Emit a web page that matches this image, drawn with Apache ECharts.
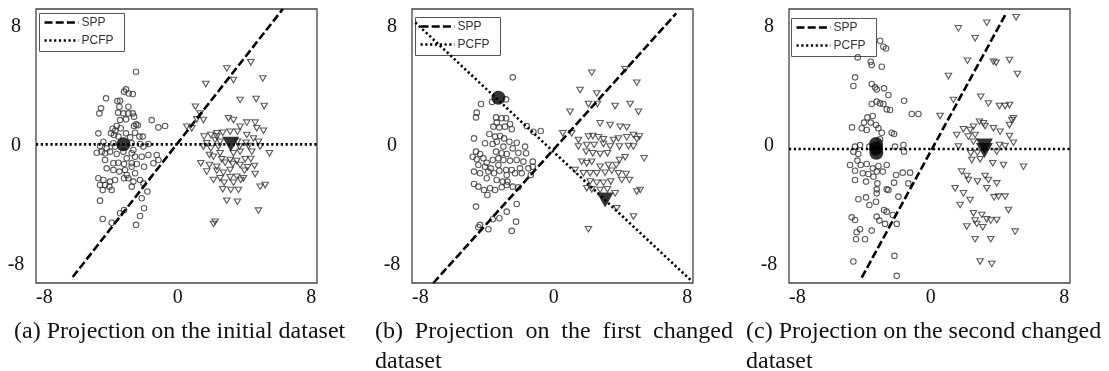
<!DOCTYPE html>
<html>
<head>
<meta charset="utf-8">
<script src="https://cdn.jsdelivr.net/npm/echarts@6/dist/echarts.min.js"></script>
<style>
html, body { margin: 0; padding: 0; background: #fff; }
#chart { width: 1109px; height: 371px; }
</style>
</head>
<body>
<div id="chart"></div>
<script>
// Axis ranges and labelled ticks shared by all three panels
const tickValues = [-8, 0, 8];
const xRange = [-8.5, 8.35];
const yRange = [-9.2, 9.2];

// ---- Panel (a): initial dataset ----
const circlesA = [[-2.50,4.99],[-4.30,3.20],[-3.10,3.80],[-3.22,3.65],[-2.94,3.53],[-2.70,3.49],[-3.62,3.02],[-3.46,3.04],[-4.60,2.53],[-4.70,2.19],[-3.50,2.64],[-2.96,2.64],[-3.58,2.24],[-3.26,2.19],[-2.96,2.19],[-2.70,2.19],[-3.10,1.79],[-2.62,1.97],[-2.50,1.45],[-2.62,1.34],[-2.40,1.39],[-3.46,1.74],[-3.66,1.34],[-3.90,1.16],[-3.74,1.03],[-3.42,1.19],[-1.56,1.74],[-1.16,1.25],[-0.76,1.34],[-4.76,0.85],[-4.00,0.85],[-3.82,0.74],[-3.56,0.63],[-3.10,0.85],[-2.86,0.58],[-2.56,0.89],[-2.30,0.63],[-2.10,0.63],[-4.46,0.29],[-3.86,0.18],[-2.76,0.18],[-2.26,0.13],[-1.76,0.13],[-4.66,0],[-4.26,-0.16],[-3.76,-0.04],[-2.06,-0.04],[-2.66,-0.27],[-4.86,-0.45],[-4.56,-0.38],[-4.36,-0.49],[-4.06,-0.38],[-3.66,-0.54],[-3.26,-0.38],[-2.76,-0.49],[-2.56,-0.72],[-2.16,-0.72],[-1.76,-0.60],[-1.26,-0.60],[-3.06,-0.83],[-4.36,-0.94],[-3.86,-1.16],[-3.56,-1.12],[-3.22,-1.21],[-2.76,-1.16],[-2.46,-1.21],[-2.02,-1.39],[-1.46,-1.16],[-1.16,-0.94],[-4.26,-1.50],[-3.86,-1.61],[-3.50,-1.72],[-3.16,-1.61],[-2.76,-1.39],[-2.56,-1.83],[-3.06,-1.95],[-4.76,-2.17],[-4.46,-2.28],[-4.06,-2.39],[-3.76,-2.28],[-3.22,-2.17],[-2.96,-2.17],[-2.66,-2.39],[-2.26,-2.28],[-2.06,-2.51],[-4.66,-2.62],[-4.36,-2.62],[-4.10,-2.73],[-4.50,-2.95],[-3.96,-2.95],[-2.76,-2.73],[-4.66,-3.67],[-2.16,-3.51],[-1.82,-3.06],[-3.46,-4.52],[-3.22,-4.30],[-2.02,-4.18],[-2.26,-4.70],[-4.50,-4.90],[-3.96,-5.15],[-2.50,-5.30]];
const trianglesA = [[4.38,5.62],[2.94,5.21],[3.34,4.43],[5.10,4.54],[1.68,4.16],[1.06,2.64],[1.34,2.19],[3.74,3.09],[4.70,3.15],[5.18,2.68],[1.54,1.74],[1.14,1.79],[0.54,1.30],[0.84,1.19],[3.04,1.86],[3.34,1.74],[4.14,1.57],[4.64,1.57],[3.74,1.30],[1.58,0.63],[1.98,0.74],[2.34,0.85],[2.70,0.89],[3.14,0.96],[3.58,0.96],[4.14,0.74],[4.74,1.19],[5.14,1.03],[2.34,0.63],[2.24,0.40],[1.74,0.18],[2.54,0.29],[3.58,0.29],[4.10,0.22],[4.84,0.29],[4.54,0.51],[1.54,-0.04],[1.98,-0.16],[2.44,-0.04],[3.70,-0.04],[4.24,0],[4.94,-0.04],[2.54,-0.49],[3.34,-0.49],[3.74,-0.38],[4.44,-0.38],[5.50,-0.49],[1.90,-0.60],[2.14,-0.72],[2.64,-0.89],[3.14,-0.94],[3.54,-1.01],[4.04,-0.89],[4.38,-0.87],[1.38,-1.16],[1.90,-1.28],[2.34,-1.39],[2.84,-1.12],[3.30,-1.21],[3.74,-1.28],[4.18,-1.43],[4.60,-1.34],[1.74,-1.72],[2.34,-1.66],[2.74,-1.79],[3.14,-1.61],[4.00,-1.66],[4.64,-1.88],[2.14,-2.28],[2.54,-2.17],[3.14,-2.10],[3.54,-2.06],[3.94,-2.17],[2.78,-2.46],[3.34,-2.46],[3.78,-2.28],[2.70,-2.91],[3.18,-2.95],[3.64,-2.95],[4.94,-2.73],[5.24,-2.62],[2.94,-3.67],[3.58,-3.74],[4.84,-4.34],[2.14,-5.23],[2.24,-5.08]];
const centerCirclesA = [[-3.26,0.11]];
const centerTrianglesA = [[3.18,0.11]];
const sppA = [[-6.3,-8.8],[6.3,9.2]];
const pcfpA = [[-8.5,0.11],[8.35,0.11]];

// ---- Panel (b): first changed dataset ----
const circlesB = [[-2.46,4.61],[-4.36,2.82],[-4.62,2.24],[-4.66,1.92],[-2.86,3.13],[-3.70,2.95],[-3.46,1.92],[-3.12,1.86],[-2.86,1.86],[-3.42,1.57],[-2.62,1.48],[-3.62,1.30],[-3.26,1.25],[-2.92,1.30],[-2.52,1.12],[-1.62,1.34],[-1.22,0.96],[-0.78,1.01],[-4.78,0.51],[-3.86,0.81],[-3.52,0.63],[-3.22,0.67],[-2.98,0.51],[-2.66,0.29],[-2.22,0.22],[-3.42,0.29],[-4.12,0.18],[-3.66,0.13],[-3.02,-0.04],[-2.46,-0.16],[-1.72,-0.04],[-4.66,-0.38],[-4.42,-0.54],[-4.86,-0.72],[-3.46,-0.38],[-3.12,-0.49],[-2.82,-0.54],[-2.12,-0.45],[-1.66,-0.49],[-4.62,-0.89],[-4.22,-0.83],[-4.02,-1.12],[-3.66,-0.94],[-3.32,-0.83],[-3.02,-0.94],[-2.62,-0.98],[-2.22,-0.94],[-1.82,-1.05],[-1.26,-1.05],[-4.52,-1.28],[-4.12,-1.39],[-3.78,-1.50],[-3.32,-1.28],[-3.26,-1.66],[-2.86,-1.61],[-2.52,-1.61],[-2.02,-1.50],[-1.52,-1.50],[-1.26,-1.39],[-4.78,-1.72],[-4.42,-1.83],[-3.92,-1.72],[-3.58,-1.83],[-2.82,-1.95],[-2.32,-1.83],[-1.92,-1.83],[-1.38,-1.95],[-4.02,-2.17],[-3.42,-2.28],[-3.06,-2.39],[-2.78,-2.39],[-4.78,-2.55],[-4.52,-2.73],[-4.18,-2.95],[-3.82,-2.84],[-3.52,-2.95],[-3.12,-2.77],[-2.82,-2.62],[-2.46,-2.73],[-2.12,-2.77],[-3.98,-3.29],[-4.66,-4.07],[-2.22,-3.89],[-2.82,-4.41],[-3.26,-4.85],[-3.66,-4.92],[-4.42,-5.30],[-3.92,-5.59],[-4.52,-5.46],[-2.26,-5.08],[-2.52,-5.70]];
const trianglesB = [[2.28,4.92],[1.58,3.76],[2.58,3.53],[4.98,4.25],[4.28,5.15],[2.08,2.82],[2.62,2.82],[3.68,2.68],[4.58,2.82],[5.08,2.30],[0.98,2.30],[2.78,1.52],[3.38,1.41],[3.98,1.30],[4.38,1.25],[0.54,0.85],[1.08,0.85],[1.48,0.40],[2.08,0.63],[2.34,0.67],[2.68,0.58],[2.98,0.45],[3.58,0.40],[3.88,0.51],[4.38,0.58],[4.78,0.74],[5.14,0.63],[4.98,0.45],[1.48,-0.04],[1.98,0.07],[2.42,0.07],[2.98,0.13],[3.38,-0.04],[3.94,-0.04],[4.48,0],[4.78,-0.04],[1.94,-0.38],[2.34,-0.49],[2.78,-0.54],[3.22,-0.49],[4.28,-0.76],[5.42,-0.83],[1.68,-1.05],[1.98,-1.16],[2.28,-1.05],[2.78,-1.39],[3.28,-1.28],[3.74,-1.28],[3.94,-0.94],[1.28,-1.61],[1.78,-1.83],[2.18,-1.83],[2.58,-1.83],[3.08,-1.79],[3.48,-1.66],[3.88,-1.83],[4.34,-1.88],[2.18,-2.39],[2.58,-2.46],[2.98,-2.46],[3.42,-2.39],[4.08,-2.28],[4.54,-2.28],[1.98,-2.84],[2.28,-2.91],[2.78,-2.95],[3.22,-2.91],[4.98,-3.06],[5.18,-2.95],[3.68,-3.18],[4.78,-4.74],[3.78,-4.18],[2.08,-5.59]];
const centerCirclesB = [[-3.32,3.24]];
const centerTrianglesB = [[3.08,-3.62]];
const sppB = [[-7.22,-9.2],[7.34,8.9]];
const pcfpB = [[-8.3,8.29],[8.3,-9.1]];

// ---- Panel (c): second changed dataset ----
const circlesC = [[-3.04,7.07],[-2.84,6.67],[-2.68,6.55],[-4.38,5.95],[-3.60,5.66],[-3.54,5.44],[-2.94,5.32],[-4.54,4.61],[-4.64,4.03],[-3.54,4.16],[-3.34,3.94],[-3.24,3.80],[-2.80,3.87],[-2.54,3.42],[-3.24,2.98],[-3.54,2.82],[-3.04,2.86],[-2.84,2.82],[-2.64,2.46],[-2.44,2.42],[-1.60,3.04],[-1.14,2.15],[-0.74,2.15],[-3.48,2.01],[-3.80,1.92],[-4.00,1.57],[-3.60,1.57],[-3.28,1.41],[-4.72,1.25],[-4.14,1.19],[-3.84,1.07],[-3.14,1.19],[-2.94,0.89],[-2.34,0.89],[-2.20,0.81],[-4.54,-0.04],[-4.24,0.07],[-3.68,-0.04],[-3.04,0.45],[-1.64,0.07],[-2.14,-0.04],[-1.60,-0.38],[-4.64,-0.38],[-4.34,-0.54],[-4.40,-0.98],[-4.84,-1.28],[-4.20,-1.28],[-3.84,-1.21],[-3.48,-1.50],[-3.14,-1.34],[-2.64,-1.28],[-4.54,-1.66],[-4.08,-1.83],[-3.74,-1.88],[-4.54,-2.28],[-3.44,-2.06],[-3.24,-1.72],[-2.88,-1.72],[-2.08,-1.95],[-1.68,-1.79],[-1.24,-1.79],[-3.88,-2.39],[-3.20,-2.51],[-3.24,-2.91],[-2.64,-2.91],[-2.54,-2.95],[-2.20,-2.46],[-1.34,-2.51],[-3.24,-3.18],[-1.94,-3.40],[-4.34,-3.58],[-3.88,-3.45],[-3.68,-3.96],[-3.28,-3.74],[-2.80,-4.30],[-2.64,-4.41],[-4.74,-4.79],[-4.54,-4.97],[-3.24,-4.74],[-3.08,-5.01],[-2.28,-4.63],[-2.04,-5.23],[-2.74,-5.23],[-4.24,-5.59],[-3.54,-5.68],[-4.44,-5.79],[-4.48,-6.26],[-3.94,-6.26],[-4.64,-7.76],[-2.18,-7.38],[-2.04,-8.72]];
const trianglesC = [[5.12,8.64],[3.36,8.28],[1.66,7.90],[2.66,7.23],[1.06,4.70],[2.20,5.73],[3.76,5.66],[3.92,5.59],[4.72,5.77],[5.20,4.83],[1.36,3.09],[3.00,3.31],[3.46,2.86],[4.12,2.68],[4.46,2.68],[4.72,2.75],[0.56,2.01],[2.92,1.63],[3.16,1.52],[2.56,1.30],[3.26,1.34],[2.36,1.07],[1.96,1.12],[1.56,0.74],[4.86,1.74],[4.96,1.86],[4.72,1.41],[3.76,1.19],[4.16,0.96],[4.72,0.67],[2.26,0.63],[2.66,0.74],[1.66,-0.04],[2.56,0.29],[4.12,0.07],[4.46,0],[4.96,0.22],[2.40,-0.49],[2.80,-0.45],[3.96,-0.38],[2.46,-0.94],[2.96,-0.89],[3.72,-1.16],[4.36,-1.28],[5.56,-1.39],[1.86,-1.72],[2.16,-2.01],[2.26,-2.28],[2.80,-2.39],[3.26,-2.01],[3.46,-2.28],[3.36,-2.84],[3.96,-2.51],[1.46,-2.84],[1.96,-3.18],[2.36,-3.62],[3.80,-3.45],[4.06,-3.40],[4.46,-3.40],[1.76,-3.96],[4.66,-4.30],[2.56,-4.52],[3.06,-4.63],[3.36,-4.92],[2.66,-5.01],[2.76,-5.23],[3.12,-5.46],[2.16,-5.41],[3.60,-5.01],[3.96,-4.97],[5.06,-5.75],[2.66,-6.26],[3.60,-6.26],[2.96,-7.76],[3.66,-7.92]];
const centerCirclesC = [[-3.28,0.14],[-3.28,-0.16],[-3.26,-0.46]];
const centerTrianglesC = [[3.22,0.0],[3.22,-0.3]];
const sppC = [[-4.14,-8.84],[4.46,8.79]];
const pcfpC = [[-8.5,-0.2],[8.35,-0.2]];

// Legend entries and panel captions
const legendNames = ['SPP', 'PCFP'];
const captionLines = [
  ['(a) Projection on the initial dataset'],
  ['(b) Projection on the first changed', 'dataset'],
  ['(c) Projection on the second changed', 'dataset']
];

const panels = [
  { circles: circlesA, triangles: trianglesA, cc: centerCirclesA, ct: centerTrianglesA, spp: sppA, pcfp: pcfpA },
  { circles: circlesB, triangles: trianglesB, cc: centerCirclesB, ct: centerTrianglesB, spp: sppB, pcfp: pcfpB },
  { circles: circlesC, triangles: trianglesC, cc: centerCirclesC, ct: centerTrianglesC, spp: sppC, pcfp: pcfpC }
];

// Panel placement
const gridBoxes = [
  { left: 36, top: 9, width: 281, height: 274, legendDx: 3, legendDy: 4 },
  { left: 412, top: 9, width: 281, height: 274, legendDx: 3, legendDy: 8 },
  { left: 789, top: 9, width: 281, height: 274, legendDx: 2, legendDy: 9 }
];
const captionX = [14, 375, 746];
const captionJustifyRight = [null, 733, null];
const captionY = [332, 362];

const SERIF = "'Liberation Serif', 'Times New Roman', serif";
const SANS = "'Liberation Sans', Arial, sans-serif";
const CAPTION_FONT_SIZE = 24;
const TICK_FONT_SIZE = 20;
const DASH = [8, 3.2];
const DOT = [2.2, 2.6];
const DOWN_TRIANGLE = 'path://M0,0 L10,0 L5,8.7 Z';

const chart = echarts.init(document.getElementById('chart'), null, { renderer: 'canvas' });

const grid = [], xAxis = [], yAxis = [], series = [], graphic = [];

gridBoxes.forEach((g, i) => {
  grid.push({ left: g.left, top: g.top, width: g.width, height: g.height, show: true,
    borderColor: '#444', borderWidth: 1.3, backgroundColor: 'transparent' });
  xAxis.push({ type: 'value', gridIndex: i, min: xRange[0], max: xRange[1],
    axisLine: { show: false }, axisTick: { show: false }, splitLine: { show: false },
    axisLabel: { customValues: tickValues, margin: 5, color: '#111', fontFamily: SERIF, fontSize: TICK_FONT_SIZE } });
  yAxis.push({ type: 'value', gridIndex: i, min: yRange[0], max: yRange[1],
    axisLine: { show: false }, axisTick: { show: false }, splitLine: { show: false },
    axisLabel: { customValues: tickValues, margin: 20, align: 'center', color: '#111', fontFamily: SERIF, fontSize: TICK_FONT_SIZE } });

  const p = panels[i];
  series.push({ type: 'scatter', xAxisIndex: i, yAxisIndex: i, data: p.circles, symbol: 'circle', symbolSize: 5.5,
    itemStyle: { color: 'transparent', borderColor: '#333', borderWidth: 1.1 }, silent: true, z: 2 });
  series.push({ type: 'scatter', xAxisIndex: i, yAxisIndex: i, data: p.triangles, symbol: DOWN_TRIANGLE, symbolSize: [6.5, 5.5],
    itemStyle: { color: 'transparent', borderColor: '#333', borderWidth: 1.1 }, silent: true, z: 2 });
  series.push({ type: 'line', xAxisIndex: i, yAxisIndex: i, data: p.spp, symbol: 'none', clip: true,
    lineStyle: { color: '#000', width: 2.6, type: DASH }, silent: true, z: 3 });
  series.push({ type: 'line', xAxisIndex: i, yAxisIndex: i, data: p.pcfp, symbol: 'none', clip: true,
    lineStyle: { color: '#000', width: 2.6, type: DOT }, silent: true, z: 3 });
  series.push({ type: 'scatter', xAxisIndex: i, yAxisIndex: i, data: p.cc, symbol: 'circle', symbolSize: 14,
    itemStyle: { color: '#000' }, silent: true, z: 4 });
  series.push({ type: 'scatter', xAxisIndex: i, yAxisIndex: i, data: p.ct, symbol: DOWN_TRIANGLE, symbolSize: [17, 15],
    itemStyle: { color: '#000' }, silent: true, z: 4 });

  // Legend box in the upper-left corner of each panel
  const lx = g.left + g.legendDx, ly = g.top + g.legendDy;
  graphic.push({ type: 'group', left: lx, top: ly, z: 100, children: [
    { type: 'rect', shape: { x: 0, y: 0, width: 85, height: 38 }, style: { fill: '#fff', stroke: '#555', lineWidth: 1 } },
    { type: 'line', shape: { x1: 5, y1: 9, x2: 39, y2: 9 }, style: { stroke: '#000', lineWidth: 2.6, lineDash: DASH } },
    { type: 'line', shape: { x1: 5, y1: 27, x2: 39, y2: 27 }, style: { stroke: '#000', lineWidth: 2.6, lineDash: DOT } },
    { type: 'text', x: 42, y: 9, style: { text: legendNames[0], fill: '#333', font: '12px ' + SANS, verticalAlign: 'middle' } },
    { type: 'text', x: 42, y: 27, style: { text: legendNames[1], fill: '#333', font: '12px ' + SANS, verticalAlign: 'middle' } }
  ]});
});

// Captions under the panels; the first line of (b) is justified to the column width
const measureCtx = document.createElement('canvas').getContext('2d');
const captionFont = CAPTION_FONT_SIZE + 'px ' + SERIF;
measureCtx.font = captionFont;
captionLines.forEach((lines, i) => {
  lines.forEach((line, j) => {
    const right = j === 0 ? captionJustifyRight[i] : null;
    if (right) {
      const words = line.split(' ');
      const widths = words.map(w => measureCtx.measureText(w).width);
      const total = widths.reduce((a, b) => a + b, 0);
      const gap = (right - captionX[i] - total) / (words.length - 1);
      let x = captionX[i];
      words.forEach((w, k) => {
        graphic.push({ type: 'text', x: x, y: captionY[j], z: 100,
          style: { text: w, fill: '#111', font: captionFont, verticalAlign: 'middle' } });
        x += widths[k] + gap;
      });
    } else {
      graphic.push({ type: 'text', x: captionX[i], y: captionY[j], z: 100,
        style: { text: line, fill: '#111', font: captionFont, verticalAlign: 'middle' } });
    }
  });
});

chart.setOption({ animation: false, grid, xAxis, yAxis, series, graphic });
</script>
</body>
</html>
